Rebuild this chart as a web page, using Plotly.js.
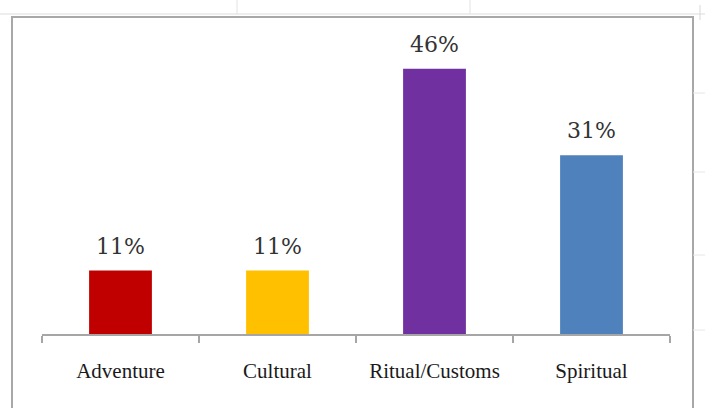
<!DOCTYPE html>
<html>
<head>
<meta charset="utf-8">
<script src="https://cdn.plot.ly/plotly-3.0.1.min.js"></script>
<style>html,body{margin:0;padding:0;background:#fff;}#chart{width:705px;height:408px;}</style>
</head>
<body>
<div id="chart"></div>
<script>
const categories = ["Adventure", "Cultural", "Ritual/Customs", "Spiritual"];
const values = [11, 11, 46, 31];
const labels = ["11%", "11%", "46%", "31%"];
const colors = ["#C00000", "#FFC000", "#7030A0", "#4F81BD"];

const trace = {
  type: "bar",
  x: categories,
  y: values,
  marker: {color: colors, line: {width: 0}},
  width: 0.4,
  hoverinfo: "none"
};

const L = 42, R = 35, T = 40, B = 74;
const W = 705, H = 408;
const pw = W - L - R, ph = H - T - B;
const px = v => (v - L) / pw;
const py = v => (H - B - v) / ph;

const annotations = categories.map((c, i) => ({
  x: c, y: values[i], xref: "x", yref: "y",
  text: labels[i], showarrow: false,
  xanchor: "center", yanchor: "bottom", yshift: 10,
  font: {family: "DejaVu Serif, serif", size: 22, color: "#333333"}
}));

const layout = {
  width: W, height: H,
  margin: {l: L, r: R, t: T, b: B},
  paper_bgcolor: "#ffffff",
  plot_bgcolor: "#ffffff",
  showlegend: false,
  annotations: annotations,
  xaxis: {
    type: "category",
    showline: true, linecolor: "#a6a6a6", linewidth: 2,
    ticks: "outside", tickson: "boundaries", ticklen: 7, tickwidth: 1.5, tickcolor: "#a6a6a6",
    showgrid: false, zeroline: false,
    ticklabelstandoff: 17,
    tickfont: {family: "Liberation Serif, Times New Roman, serif", size: 21, color: "#1a1a1a"}
  },
  yaxis: {
    range: [0, 51], visible: false, showgrid: false, zeroline: false, fixedrange: true
  },
  shapes: [
    {type: "line", xref: "paper", yref: "paper", x0: px(0), x1: px(705), y0: py(14), y1: py(14),
     line: {color: "#dcdcdc", width: 1}},
    {type: "line", xref: "paper", yref: "paper", x0: px(237), x1: px(237), y0: py(0), y1: py(14),
     line: {color: "#e2e2e2", width: 1}},
    {type: "line", xref: "paper", yref: "paper", x0: px(470), x1: px(470), y0: py(0), y1: py(14),
     line: {color: "#e2e2e2", width: 1}},
    {type: "line", xref: "paper", yref: "paper", x0: px(700), x1: px(700), y0: py(5), y1: py(20),
     line: {color: "#d8d8d8", width: 1}},
    {type: "line", xref: "paper", yref: "paper", x0: px(693), x1: px(705), y0: py(93), y1: py(93),
     line: {color: "#e6e6e6", width: 1}},
    {type: "line", xref: "paper", yref: "paper", x0: px(693), x1: px(705), y0: py(172), y1: py(172),
     line: {color: "#e6e6e6", width: 1}},
    {type: "line", xref: "paper", yref: "paper", x0: px(693), x1: px(705), y0: py(255), y1: py(255),
     line: {color: "#e6e6e6", width: 1}},
    {type: "line", xref: "paper", yref: "paper", x0: px(693), x1: px(705), y0: py(330), y1: py(330),
     line: {color: "#e6e6e6", width: 1}},
    {type: "rect", xref: "paper", yref: "paper", x0: px(12), x1: px(693), y0: py(412), y1: py(17),
     line: {color: "#a8a8a8", width: 2}, fillcolor: "rgba(0,0,0,0)", layer: "below"}
  ]
};

Plotly.newPlot("chart", [trace], layout, {displayModeBar: false, staticPlot: true});
</script>
</body>
</html>
